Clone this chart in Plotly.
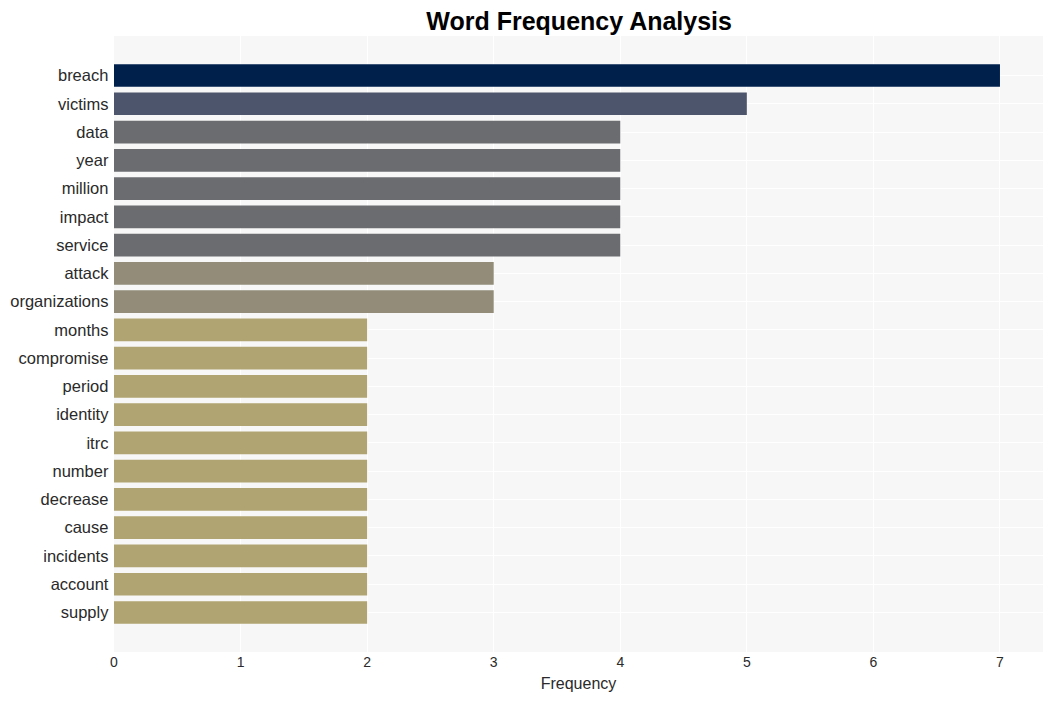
import plotly.graph_objects as go

words = ["breach", "victims", "data", "year", "million", "impact", "service",
         "attack", "organizations", "months", "compromise", "period", "identity",
         "itrc", "number", "decrease", "cause", "incidents", "account", "supply"]
freqs = [7, 5, 4, 4, 4, 4, 4, 3, 3, 2, 2, 2, 2, 2, 2, 2, 2, 2, 2, 2]

value_colors = {7: "rgb(0,32,76)", 5: "rgb(76,85,107)", 4: "rgb(107,108,112)",
                3: "rgb(146,140,120)", 2: "rgb(176,165,114)"}
colors = [value_colors[v] for v in freqs]

fig = go.Figure(go.Bar(
    x=freqs, y=words, orientation="h",
    marker=dict(color=colors, line=dict(width=0)),
))

fig.update_layout(
    width=1053, height=701,
    margin=dict(l=114, r=10, t=36, b=49),
    paper_bgcolor="white", plot_bgcolor="#f7f7f7",
    font=dict(family="Liberation Sans, Arial, sans-serif", color="#2a2a2a"),
    title=dict(text="<b>Word Frequency Analysis</b>", x=0.55, xanchor="center",
               y=0.982, yanchor="top", font=dict(size=25, color="black")),
    bargap=0.2,
    showlegend=False,
)
fig.update_xaxes(title=dict(text="Frequency", font=dict(size=16), standoff=8),
                 range=[0, 7.34],
                 dtick=1, showgrid=True, gridcolor="white", gridwidth=1,
                 zeroline=False, tickfont=dict(size=14), ticks="")
fig.update_yaxes(range=[20.4, -1.4], showgrid=True, gridcolor="white",
                 tickfont=dict(size=16.5), ticks="", ticksuffix=" ")

fig.write_html("out.html")
